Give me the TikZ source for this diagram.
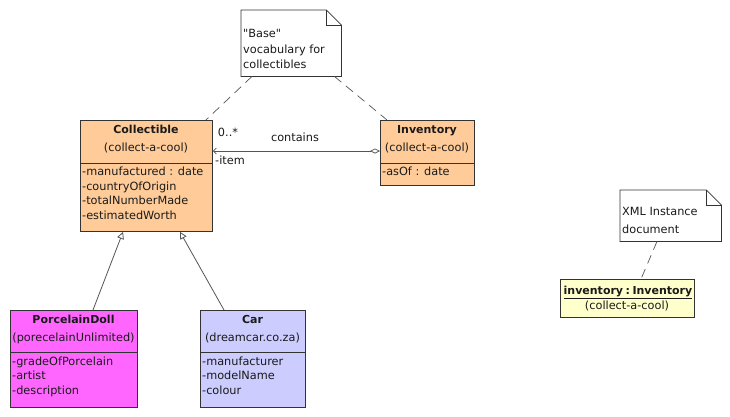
\documentclass[tikz,border=0pt]{standalone}
\usepackage{fontspec}
\setmainfont{DejaVu Sans}[Ligatures=TeXOff]
\usetikzlibrary{arrows.meta,calc}
\definecolor{orangefill}{HTML}{FFCC99}
\definecolor{dollfill}{HTML}{FF66FF}
\definecolor{carfill}{HTML}{CCCCFF}
\definecolor{objfill}{HTML}{FFFFCC}
\definecolor{boxline}{HTML}{333333}
\definecolor{connline}{HTML}{555555}
\definecolor{txt}{HTML}{1A1A1A}
\begin{document}
\begin{tikzpicture}[x=1pt,y=-1pt,
  classbox/.style={draw=boxline, line width=0.9pt, inner sep=0pt, anchor=north west},
  notebox/.style={draw=none, inner sep=0pt, anchor=north west},
  divider/.style={draw=boxline, line width=0.9pt},
  title/.style={font=\fontsize{11}{13}\selectfont\bfseries, text=txt, inner sep=0pt, text height=8pt, text depth=2.5pt},
  plain/.style={font=\fontsize{11.3}{13}\selectfont, text=txt, inner sep=0pt, text height=8pt, text depth=2.5pt},
  attr/.style={plain, anchor=west},
  noteline/.style={draw=boxline, line width=0.7pt},
  notelink/.style={draw=connline, line width=0.7pt, dash pattern=on 9pt off 6pt},
  assoc/.style={draw=connline, line width=0.7pt},
  inherit/.style={draw=connline, line width=0.8pt, -{Triangle[open, length=7pt, width=7pt]}}
]
\useasboundingbox (0,0) rectangle (730,416);
\fill[white] (0,0) rectangle (730,416);

% ---------- note 1
\node[notebox, minimum width=100pt, minimum height=66pt] (note1) at (241,10) {};
\draw[noteline, fill=white] (note1.north west) -- ($(note1.north east)+(-15,0)$) -- ($(note1.north east)+(0,15)$) -- (note1.south east) -- (note1.south west) -- cycle;
\draw[noteline] ($(note1.north east)+(-15,0)$) -- ($(note1.north east)+(-15,15)$) -- ($(note1.north east)+(0,15)$);
\node[attr] (n1a) at (243,35) {"Base"};
\node[attr] (n1b) at (243,51) {vocabulary for};
\node[attr] (n1c) at (243,66) {collectibles};

% ---------- Collectible
\node[classbox, fill=orangefill, minimum width=132pt, minimum height=111pt] (coll) at (80,120) {};
\draw[divider] ($(coll.north west)+(0,43)$) -- ($(coll.north east)+(0,43)$);
\node[title] (collt) at (146,131) {Collectible};
\node[plain] (collp) at (146,149) {(collect-a-cool)};
\node[attr] (colla1) at (82,173) {-manufactured : date};
\node[attr] (colla2) at (82,188) {-countryOfOrigin};
\node[attr] (colla3) at (82,202) {-totalNumberMade};
\node[attr] (colla4) at (82,217) {-estimatedWorth};

% ---------- Inventory
\node[classbox, fill=orangefill, minimum width=94pt, minimum height=65pt] (inv) at (380,120) {};
\draw[divider] ($(inv.north west)+(0,43)$) -- ($(inv.north east)+(0,43)$);
\node[title] (invt) at (427,131) {Inventory};
\node[plain] (invp) at (427,149) {(collect-a-cool)};
\node[attr] (inva1) at (382,173) {-asOf : date};

% ---------- PorcelainDoll
\node[classbox, fill=dollfill, minimum width=127pt, minimum height=97pt] (doll) at (10,310) {};
\draw[divider] ($(doll.north west)+(0,42)$) -- ($(doll.north east)+(0,42)$);
\node[title] (dollt) at (73.5,321) {PorcelainDoll};
\node[plain] (dollp) at (73.5,339) {(porecelainUnlimited)};
\node[attr] (dolla1) at (12,363) {-gradeOfPorcelain};
\node[attr] (dolla2) at (12,377) {-artist};
\node[attr] (dolla3) at (12,392) {-description};

% ---------- Car
\node[classbox, fill=carfill, minimum width=105pt, minimum height=97pt] (car) at (200,310) {};
\draw[divider] ($(car.north west)+(0,42)$) -- ($(car.north east)+(0,42)$);
\node[title] (cart) at (252.5,321) {Car};
\node[plain] (carp) at (252.5,339) {(dreamcar.co.za)};
\node[attr] (cara1) at (202,363) {-manufacturer};
\node[attr] (cara2) at (202,377) {-modelName};
\node[attr] (cara3) at (202,392) {-colour};

% ---------- note 2
\node[notebox, minimum width=101pt, minimum height=51pt] (note2) at (620,190) {};
\draw[noteline, fill=white] (note2.north west) -- ($(note2.north east)+(-15,0)$) -- ($(note2.north east)+(0,15)$) -- (note2.south east) -- (note2.south west) -- cycle;
\draw[noteline] ($(note2.north east)+(-15,0)$) -- ($(note2.north east)+(-15,15)$) -- ($(note2.north east)+(0,15)$);
\node[attr] (n2a) at (622,213) {XML Instance};
\node[attr] (n2b) at (622,231) {document};

% ---------- object
\node[classbox, fill=objfill, minimum width=134pt, minimum height=38pt] (obj) at (560,279) {};
\node[title] (objt) at (628,292) {\underline{inventory\hspace{2.5pt}:\hspace{2.5pt}Inventory}};
\node[plain] (objp) at (627,307) {(collect-a-cool)};

% ---------- connectors
\draw[notelink] ($(note1.south west)+(11,0)$) -- ($(coll.north east)+(-7,0)$);
\draw[notelink] ($(note1.south east)+(-7,0)$) -- ($(inv.north west)+(7,0)$);
\draw[notelink] ($(note2.south west)+(37,0)$) -- ($(obj.north west)+(81,0)$);

\draw[assoc, {Diamond[open, length=10pt, width=5pt]}-{Straight Barb[length=3pt, width=6pt]}]
  ($(inv.north west)+(0,31)$) -- ($(coll.north east)+(0,31)$);
\node[plain] (mult) at (228,134) {0..*};
\node[plain] (assn) at (295,139) {contains};
\node[attr] (role) at (215,162) {-item};

\draw[inherit] ($(doll.north west)+(83,0)$) -- ($(coll.south west)+(43,0)$);
\draw[inherit] ($(car.north west)+(24,0)$) -- ($(coll.south west)+(100,0)$);
\end{tikzpicture}
\end{document}
